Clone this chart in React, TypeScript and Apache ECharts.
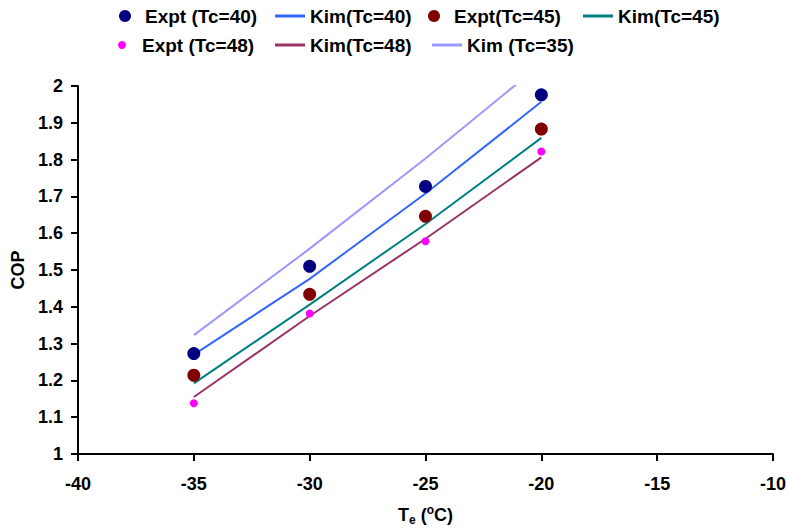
import React, { useEffect, useRef } from "react";
import * as echarts from "echarts";

const temps = [-35, -30, -25, -20];
const exptTc40 = [1.273, 1.51, 1.727, 1.976];
const exptTc45 = [1.214, 1.434, 1.646, 1.883];
const exptTc48 = [1.138, 1.382, 1.578, 1.822];
const kimTc40 = [1.27, 1.476, 1.708, 1.957];
const kimTc45 = [1.192, 1.406, 1.625, 1.859];
const kimTc48 = [1.155, 1.375, 1.585, 1.806];
const kimTc35 = [1.323, 1.558, 1.803, 2.06];

const FONT = "'Liberation Sans', Arial, sans-serif";

const pairs = (ys: number[]) => temps.map((t, i) => [t, ys[i]]);

export default function App() {
  const ref = useRef<HTMLDivElement>(null);
  useEffect(() => {
    if (!ref.current) return;
    const chart = echarts.init(ref.current, null, { renderer: "svg" });
    const axisText = { fontFamily: FONT, fontWeight: "bold" as const, fontSize: 18, color: "#000" };
    const legendText = { fontFamily: FONT, fontWeight: "bold" as const, fontSize: 19, color: "#000", lineHeight: 20 };
    const mkLegend = (name: string, left: number, top: number, line: boolean, dot = 12) => ({
      data: [name],
      left,
      top,
      orient: "horizontal",
      itemWidth: 30,
      itemHeight: line ? 3 : dot,
      icon: line ? "rect" : "circle",
      textStyle: legendText,
      padding: 0,
    });
    const scatter = (name: string, ys: number[], color: string, size: number) => ({
      name,
      type: "scatter",
      data: pairs(ys),
      symbolSize: size,
      itemStyle: { color, opacity: 1 },
      z: 5,
    });
    const line = (name: string, ys: number[], color: string) => ({
      name,
      type: "line",
      data: pairs(ys),
      showSymbol: false,
      symbol: "none",
      lineStyle: { color, width: 2 },
      itemStyle: { color },
      clip: true,
      z: 3,
    });
    chart.setOption({
      animation: false,
      backgroundColor: "#fff",
      grid: { left: 78, right: 16, top: 86, bottom: 76 },
      legend: [
        mkLegend("Expt (Tc=40)", 119, 6, false),
        mkLegend("Kim(Tc=40)", 275, 6, true),
        mkLegend("Expt(Tc=45)", 428, 6, false),
        mkLegend("Kim(Tc=45)", 583, 6, true),
        mkLegend("Expt (Tc=48)", 118, 35, false, 8),
        mkLegend("Kim(Tc=48)", 275, 35, true),
        mkLegend("Kim (Tc=35)", 432, 35, true),
      ],
      xAxis: {
        type: "value",
        min: -40,
        max: -10,
        interval: 5,
        splitLine: { show: false },
        axisLine: { onZero: false, lineStyle: { color: "#000", width: 2 } },
        axisTick: { show: true, length: 7, lineStyle: { color: "#000", width: 2 } },
        axisLabel: { ...axisText, margin: 21 },
        name: "{a|T}{sub|e}{a| (}{sup|o}{a|C)}",
        nameLocation: "middle",
        nameGap: 50,
        nameTextStyle: {
          ...axisText,
          rich: {
            a: { fontFamily: FONT, fontWeight: "bold", fontSize: 18, color: "#000", lineHeight: 22 },
            sub: { fontFamily: FONT, fontWeight: "bold", fontSize: 12, color: "#000", lineHeight: 22, verticalAlign: "bottom", padding: [9, 0, 0, 0] },
            sup: { fontFamily: FONT, fontWeight: "bold", fontSize: 12, color: "#000", lineHeight: 22, verticalAlign: "top", padding: [0, 0, 7, 0] },
          },
        },
      },
      yAxis: {
        type: "value",
        min: 1,
        max: 2,
        interval: 0.1,
        splitLine: { show: false },
        axisLine: { show: true, lineStyle: { color: "#000", width: 2 } },
        axisTick: { show: true, length: 7, lineStyle: { color: "#000", width: 2 } },
        axisLabel: { ...axisText, margin: 15 },
        name: "COP",
        nameLocation: "middle",
        nameGap: 48,
        nameTextStyle: { ...axisText },
      },
      series: [
        scatter("Expt (Tc=40)", exptTc40, "#000080", 13),
        line("Kim(Tc=40)", kimTc40, "#3366FF"),
        scatter("Expt(Tc=45)", exptTc45, "#800000", 13),
        line("Kim(Tc=45)", kimTc45, "#008080"),
        scatter("Expt (Tc=48)", exptTc48, "#FF00FF", 8),
        line("Kim(Tc=48)", kimTc48, "#993366"),
        line("Kim (Tc=35)", kimTc35, "#9999FF"),
      ],
    });
    return () => chart.dispose();
  }, []);
  return <div ref={ref} style={{ width: 789, height: 531, position: "absolute", left: 0, top: 0 }} />;
}
